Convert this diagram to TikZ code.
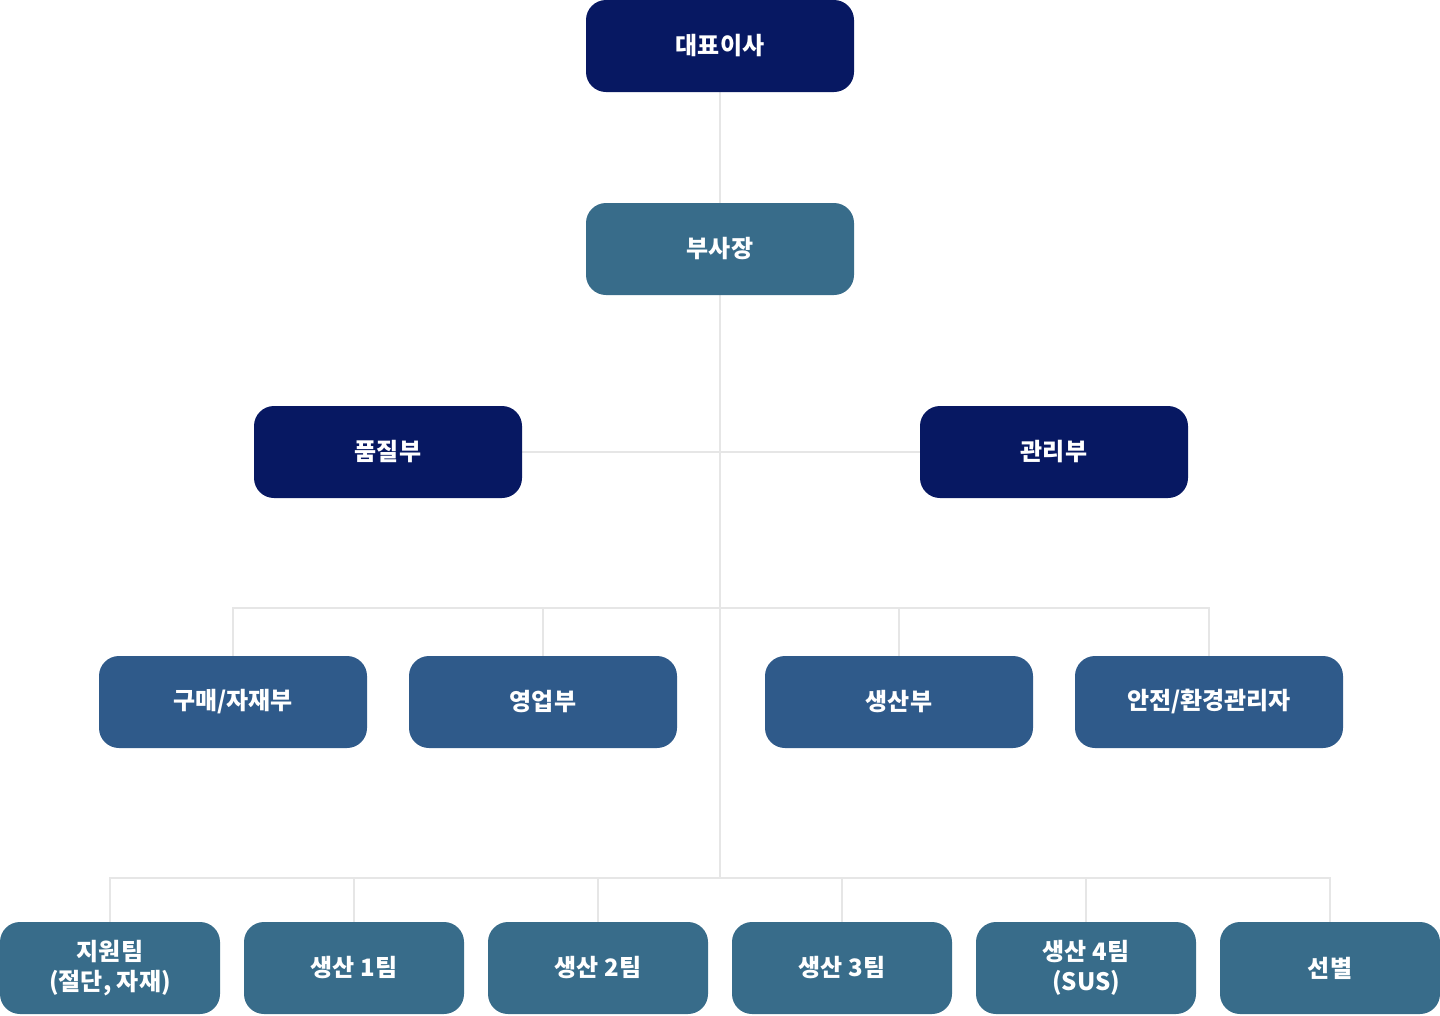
\documentclass[tikz,border=0pt]{standalone}
\usepackage{fontspec}
\newfontfamily\kr{Noto Sans CJK KR}
\usepackage{tikz}
\usetikzlibrary{positioning,backgrounds}

\definecolor{navy}{HTML}{071862}
\definecolor{teal}{HTML}{386C8A}
\definecolor{midblue}{HTML}{2F5A8A}
\definecolor{linegray}{HTML}{E6E6E6}

\begin{document}
\begin{tikzpicture}[x=1pt,y=-1pt,
    box/.style={rounded corners=20pt, minimum height=92pt, text=white, align=center,
      font=\kr\bfseries\fontsize{24}{30}\selectfont, inner sep=0pt},
    wide/.style={box, minimum width=268pt},
    small/.style={box, minimum width=220pt, fill=teal},
    link/.style={draw=linegray, line width=1.5pt}]

    \useasboundingbox (0,0) rectangle (1440,1015);

    \node[wide, fill=navy] (ceo) at (720,46) {대표이사};
    \node[wide, fill=teal] (vp) at (720,249) {부사장};

    \node[wide, fill=navy] (qa) at (388,452) {품질부};
    \node[wide, fill=navy] (adm) at (1054,452) {관리부};

    \node[wide, fill=midblue] (buy) at (233,702) {구매/자재부};
    \node[wide, fill=midblue] (sales) at (543,702) {영업부};
    \node[wide, fill=midblue] (prod) at (899,702) {생산부};
    \node[wide, fill=midblue] (safe) at (1209,702) {안전/환경관리자};

    \node[small] (sup) at (110,968) {지원팀\\(절단, 자재)};
    \node[small] (t1) at (354,968) {생산 1팀};
    \node[small] (t2) at (598,968) {생산 2팀};
    \node[small] (t3) at (842,968) {생산 3팀};
    \node[small] (t4) at (1086,968) {생산 4팀\\(SUS)};
    \node[small] (sel) at (1330,968) {선별};

    \coordinate (busA) at (720,608);
    \coordinate (busB) at (720,878);

    \begin{scope}[on background layer]
    \draw[link] (ceo.south) -- (vp.north);
    \draw[link] (vp.south) -- (busB);
    \draw[link] (qa.east) -- (adm.west);

    \draw[link] (buy.north) -- (buy.north |- busA) -- (safe.north |- busA) -- (safe.north);
    \foreach \n in {sales,prod}
      \draw[link] (\n.north) -- (\n.north |- busA);

    \draw[link] (sup.north) -- (sup.north |- busB) -- (sel.north |- busB) -- (sel.north);
    \foreach \n in {t1,t2,t3,t4}
      \draw[link] (\n.north) -- (\n.north |- busB);
    \end{scope}
  \end{tikzpicture}
\end{document}
